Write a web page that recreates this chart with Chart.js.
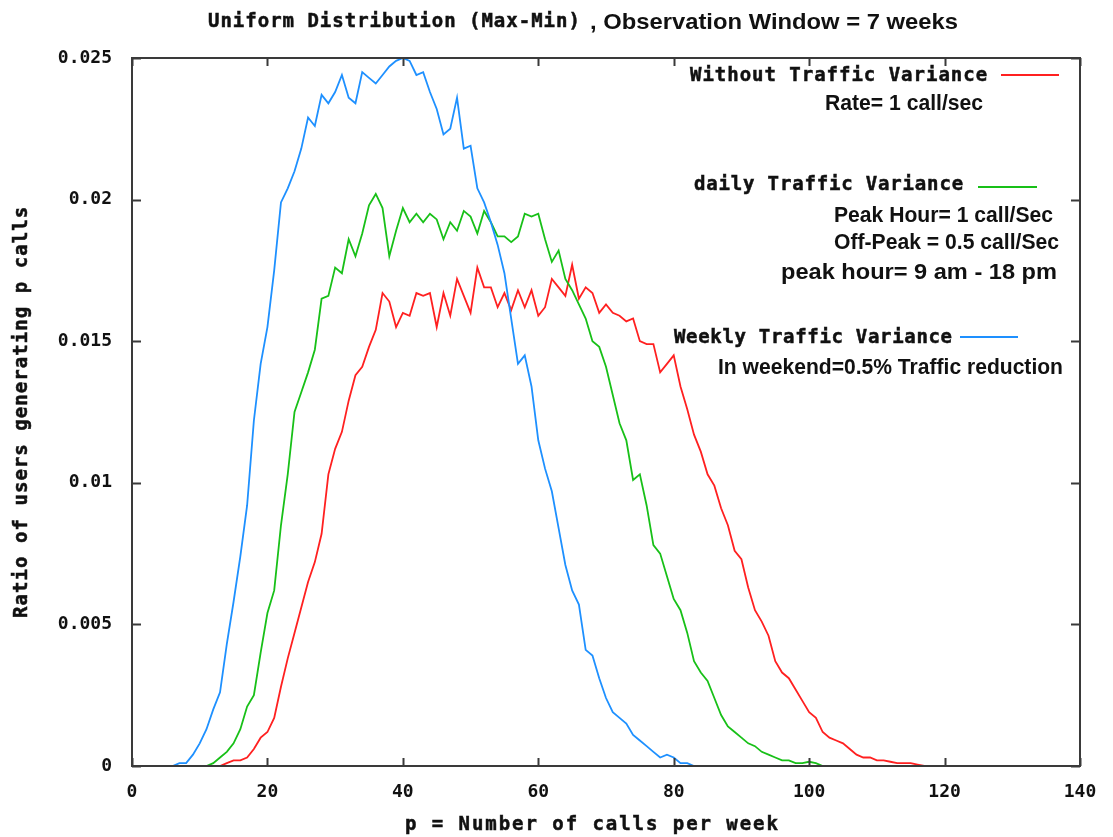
<!DOCTYPE html>
<html>
<head>
<meta charset="utf-8">
<script src="https://cdn.jsdelivr.net/npm/chart.js@4.4.1/dist/chart.umd.min.js"></script>
<style>
html, body { margin: 0; padding: 0; background: #fff; }
canvas { display: block; }
</style>
</head>
<body>
<canvas id="grafico" width="1113" height="837"></canvas>
<script>
// assi
const xTicks = [0, 20, 40, 60, 80, 100, 120, 140];
const yTicks = [0, 0.005, 0.01, 0.015, 0.02, 0.025];
const yTickLabels = ['0', '0.005', '0.01', '0.015', '0.02', '0.025'];

// Without Traffic Variance (p = 13 ... 118)
const withoutStart = 13;
const withoutRatio = [
    0, 0.0001, 0.0002, 0.0002, 0.0003, 0.0006, 0.0010, 0.0012, 0.0017, 0.0028,
    0.0038, 0.0047, 0.0056, 0.0065, 0.0072, 0.0082, 0.0103, 0.0112, 0.0118, 0.0129,
    0.0138, 0.0141, 0.0148, 0.0154, 0.0167, 0.0164, 0.0155, 0.0160, 0.0159, 0.0167,
    0.0166, 0.0167, 0.0155, 0.0167, 0.0159, 0.0172, 0.0166, 0.0160, 0.0176, 0.0169,
    0.0169, 0.0162, 0.0167, 0.0161, 0.0168, 0.0162, 0.0168, 0.0159, 0.0162, 0.0172,
    0.0169, 0.0166, 0.0177, 0.0165, 0.0169, 0.0167, 0.0160, 0.0163, 0.0160, 0.0159,
    0.0157, 0.0158, 0.0150, 0.0149, 0.0149, 0.0139, 0.0142, 0.0145, 0.0134, 0.0126,
    0.0117, 0.0111, 0.0103, 0.0099, 0.0091, 0.0085, 0.0076, 0.0073, 0.0063, 0.0055,
    0.0051, 0.0046, 0.0037, 0.0033, 0.0031, 0.0027, 0.0023, 0.0019, 0.0017, 0.0012,
    0.0010, 0.0009, 0.0008, 0.0006, 0.0004, 0.0003, 0.0003, 0.0002, 0.0002, 0.00015,
    0.0001, 0.0001, 0.0001, 0.00005, 0, 0
];

// daily Traffic Variance (p = 9 ... 106)
const dailyStart = 9;
const dailyRatio = [
    0, 0, 0, 0.0001, 0.0003, 0.0005, 0.0008, 0.0013, 0.0021, 0.0025,
    0.0040, 0.0054, 0.0062, 0.0085, 0.0103, 0.0125, 0.0132, 0.0139, 0.0147, 0.0165,
    0.0166, 0.0176, 0.0174, 0.0186, 0.0180, 0.0188, 0.0198, 0.0202, 0.0197, 0.0180,
    0.0189, 0.0197, 0.0192, 0.0195, 0.0192, 0.0195, 0.0193, 0.0186, 0.0192, 0.0189,
    0.0196, 0.0194, 0.0188, 0.0196, 0.0192, 0.0187, 0.0187, 0.0185, 0.0187, 0.0195,
    0.0194, 0.0195, 0.0186, 0.0178, 0.0182, 0.0172, 0.0168, 0.0163, 0.0158, 0.0150,
    0.0148, 0.0141, 0.0131, 0.0121, 0.0115, 0.0101, 0.0103, 0.0092, 0.0078, 0.0075,
    0.0067, 0.0059, 0.0055, 0.0047, 0.0037, 0.0033, 0.0030, 0.0024, 0.0018, 0.0014,
    0.0012, 0.0010, 0.0008, 0.0007, 0.0005, 0.0004, 0.0003, 0.0002, 0.0002, 0.0001,
    0.0001, 0.00015, 0.0001, 0, 0, 0, 0, 0
];

// Weekly Traffic Variance (p = 5 ... 84)
const weeklyStart = 5;
const weeklyRatio = [
    0, 0, 0.0001, 0.0001, 0.0004, 0.0008, 0.0013, 0.0020, 0.0026, 0.0043,
    0.0058, 0.0074, 0.0092, 0.0122, 0.0142, 0.0155, 0.0175, 0.0199, 0.0204, 0.0210,
    0.0218, 0.0229, 0.0226, 0.0237, 0.0234, 0.0238, 0.0244, 0.0236, 0.0234, 0.0245,
    0.0243, 0.0241, 0.0244, 0.0247, 0.0249, 0.0250, 0.0249, 0.0244, 0.0245, 0.0238,
    0.0232, 0.0223, 0.0225, 0.0236, 0.0218, 0.0219, 0.0204, 0.0199, 0.0192, 0.0184,
    0.0174, 0.0158, 0.0142, 0.0145, 0.0134, 0.0115, 0.0105, 0.0097, 0.0084, 0.0071,
    0.0062, 0.0057, 0.0041, 0.0039, 0.0031, 0.0024, 0.0019, 0.0017, 0.0015, 0.0011,
    0.0009, 0.0007, 0.0005, 0.0003, 0.0004, 0.0003, 0.0001, 0.0001, 0, 0
];

const rosso = 'rgb(255, 32, 32)';
const verde = 'rgb(24, 192, 24)';
const blu = 'rgb(30, 144, 255)';
const mono = '"DejaVu Sans Mono"';
const sans = '"Liberation Sans"';

function punti(start, valori) {
    return valori.map((v, i) => ({ x: start + i, y: v }));
}

// testo monospace allargato con letterSpacing fino a x2
function testoMono(ctx, testo, x1, x2, y, size) {
    ctx.font = 'bold ' + size + 'px ' + mono;
    ctx.letterSpacing = '0px';
    const w = ctx.measureText(testo).width;
    const sp = (x2 - x1 - w) / (testo.length - 1);
    ctx.letterSpacing = sp.toFixed(2) + 'px';
    ctx.textAlign = 'left';
    ctx.textBaseline = 'middle';
    ctx.lineWidth = 0.5;
    ctx.strokeStyle = '#111';
    ctx.fillText(testo, x1, y);
    ctx.strokeText(testo, x1, y);
    ctx.letterSpacing = '0px';
}

// testo normale, stretto/stirato in orizzontale fino a x2
function testoSans(ctx, testo, x1, x2, y, size) {
    ctx.letterSpacing = '0px';
    ctx.font = 'bold ' + size + 'px ' + sans;
    const w = ctx.measureText(testo).width;
    ctx.save();
    ctx.translate(x1, y);
    ctx.scale((x2 - x1) / w, 1);
    ctx.textAlign = 'left';
    ctx.textBaseline = 'middle';
    ctx.fillText(testo, 0, 0);
    ctx.restore();
}

const cornice = {
    id: 'cornice',
    afterDraw(chart) {
        const ctx = chart.ctx;
        const a = chart.chartArea;
        const sx = chart.scales.x, sy = chart.scales.y;
        ctx.save();
        ctx.strokeStyle = '#3a3a3a';
        ctx.lineWidth = 2;
        ctx.strokeRect(a.left, a.top, a.right - a.left, a.bottom - a.top);
        ctx.beginPath();
        xTicks.forEach(v => {
            const px = Math.round(sx.getPixelForValue(v)) + 0.5;
            ctx.moveTo(px, a.bottom); ctx.lineTo(px, a.bottom - 8);
            ctx.moveTo(px, a.top); ctx.lineTo(px, a.top + 8);
        });
        yTicks.forEach(v => {
            const py = Math.round(sy.getPixelForValue(v)) + 0.5;
            ctx.moveTo(a.left, py); ctx.lineTo(a.left + 9, py);
            ctx.moveTo(a.right, py); ctx.lineTo(a.right - 9, py);
        });
        ctx.stroke();

        ctx.fillStyle = '#111';
        // titolo
        testoMono(ctx, 'Uniform Distribution (Max-Min)', 208, 580, 22, 19);
        testoSans(ctx, ', Observation Window = 7 weeks', 590, 958, 23, 22);

        // titoli assi
        testoMono(ctx, 'p = Number of calls per week', 405, 778, 825, 19);
        ctx.save();
        ctx.translate(22, 618);
        ctx.rotate(-Math.PI / 2);
        testoMono(ctx, 'Ratio of users generating p calls', 0, 411, 0, 19);
        ctx.restore();

        // legenda
        testoMono(ctx, 'Without Traffic Variance', 690, 987, 76, 19);
        testoSans(ctx, 'Rate= 1 call/sec', 825, 983, 104, 22);
        testoMono(ctx, 'daily Traffic Variance', 694, 963, 185, 19);
        testoSans(ctx, 'Peak Hour= 1 call/Sec', 834, 1053, 216, 22);
        testoSans(ctx, 'Off-Peak = 0.5 call/Sec', 834, 1059, 243, 22);
        testoSans(ctx, 'peak hour= 9 am - 18 pm', 781, 1057, 273, 22);
        testoMono(ctx, 'Weekly Traffic Variance', 674, 952, 338, 19);
        testoSans(ctx, 'In weekend=0.5% Traffic reduction', 718, 1063, 368, 22);

        ctx.lineWidth = 2;
        [[rosso, 1001, 1059, 75], [verde, 978, 1037, 187], [blu, 960, 1018, 337]].forEach(l => {
            ctx.strokeStyle = l[0];
            ctx.beginPath();
            ctx.moveTo(l[1], l[3]); ctx.lineTo(l[2], l[3]);
            ctx.stroke();
        });
        ctx.restore();
    }
};

document.addEventListener('DOMContentLoaded', () => {
    const ctx = document.getElementById('grafico');
    new Chart(ctx, {
        type: 'line',
        data: {
            datasets: [
                { label: 'Weekly Traffic Variance', data: punti(weeklyStart, weeklyRatio), borderColor: blu },
                { label: 'daily Traffic Variance', data: punti(dailyStart, dailyRatio), borderColor: verde },
                { label: 'Without Traffic Variance', data: punti(withoutStart, withoutRatio), borderColor: rosso }
            ]
        },
        options: {
            responsive: false,
            animation: false,
            parsing: false,
            layout: { padding: { top: 58, right: 33, left: 0, bottom: 0 } },
            elements: {
                line: { borderWidth: 1.8, tension: 0, fill: false },
                point: { radius: 0 }
            },
            plugins: {
                legend: { display: false },
                tooltip: { enabled: false },
                title: { display: false }
            },
            scales: {
                x: {
                    type: 'linear',
                    min: 0,
                    max: 140,
                    afterBuildTicks: s => { s.ticks = xTicks.map(v => ({ value: v })); },
                    afterFit: s => { s.height = 71; },
                    grid: { display: false, drawTicks: false },
                    border: { display: false },
                    ticks: {
                        color: '#111',
                        padding: 16,
                        maxRotation: 0,
                        font: { family: mono, size: 18, weight: 'bold' },
                        callback: v => String(v)
                    }
                },
                y: {
                    type: 'linear',
                    min: 0,
                    max: 0.025,
                    afterBuildTicks: s => { s.ticks = yTicks.map(v => ({ value: v })); },
                    afterFit: s => { s.width = 132; },
                    grid: { display: false, drawTicks: false },
                    border: { display: false },
                    ticks: {
                        color: '#111',
                        padding: 20,
                        font: { family: mono, size: 18, weight: 'bold' },
                        callback: (v, i) => yTickLabels[i]
                    }
                }
            }
        },
        plugins: [cornice]
    });
});
</script>
</body>
</html>
